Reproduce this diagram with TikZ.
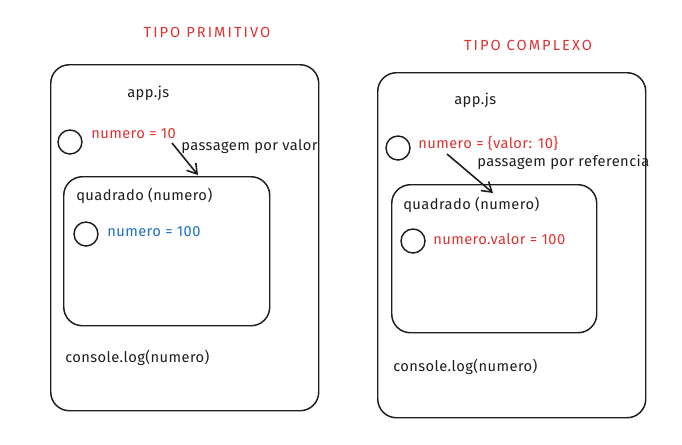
\documentclass[tikz,border=0pt]{standalone}
\usepackage{fontspec}
\setmainfont{Fira Sans}
\newfontfamily\labelfont[LetterSpace=3]{Fira Sans}
\newfontfamily\titlefont[LetterSpace=14]{Fira Sans}
\usetikzlibrary{arrows.meta}
\definecolor{inkblack}{HTML}{1E1E1E}
\definecolor{inkred}{HTML}{E03131}
\definecolor{inkblue}{HTML}{1971C2}
\begin{document}
\begin{tikzpicture}[x=0.75pt,y=-0.75pt,%
% common options for the boxes:
block/.style = {draw=inkblack, line width=1.1pt, rounded corners=14pt,
            anchor=north west, inner sep=0},
% common options for the circles:
ball/.style = {circle, draw=inkblack, line width=1.1pt, minimum size=18pt, inner sep=0},
% common options for the texts:
label/.style = {anchor=west, inner sep=0, font=\labelfont\fontsize{11}{12}\selectfont, text=inkblack},
title/.style = {inner sep=0, font=\titlefont\fontsize{11}{12}\selectfont, text=inkred},
arrow/.style = {draw=inkblack, line width=1.2pt, -{Straight Barb[length=7pt,width=9pt]}}]
\useasboundingbox (0,0) rectangle (682,444);
% tipo primitivo
\node[title] (T1) at (207,32) {TIPO PRIMITIVO};
\node[block,minimum width=201pt,minimum height=259.5pt] (App1) at (50,64) {};
\node[label] (J1) at (127,93) {app.js};
\node[ball] (C1) at (70,142) {};
\node[label,text=inkred] (N1) at (91,134) {numero = 10};
\node[label] (P1) at (181,147) {passagem por valor};
\node[block,minimum width=154.5pt,minimum height=111.75pt] (Q1) at (63,176) {};
\node[label] (QT1) at (76,196) {quadrado (numero)};
\node[ball] (C2) at (86,234) {};
\node[label,text=inkblue] (N2) at (107,232) {numero = 100};
\node[label] (L1) at (65,358) {console.log(numero)};
\coordinate (S1) at (172,143);
\coordinate (E1) at (198,175);
\draw[arrow] (S1) -- (E1);
% tipo complexo
\node[title] (T2) at (528,45) {TIPO COMPLEXO};
\node[block,minimum width=201pt,minimum height=258.75pt] (App2) at (377,72) {};
\node[label] (J2) at (454,100) {app.js};
\node[ball] (C3) at (398,148) {};
\node[label,text=inkred] (N3) at (418,143) {numero = \{valor: 10\}};
\node[label] (P2) at (477,162) {passagem por referencia};
\node[block,minimum width=153.75pt,minimum height=111pt] (Q2) at (391,184) {};
\node[label] (QT2) at (403,205) {quadrado (numero)};
\node[ball] (C4) at (413,241) {};
\node[label,text=inkred] (N4) at (433,239) {numero.valor = 100};
\node[label] (L2) at (393,367) {console.log(numero)};
\coordinate (S2) at (447,154);
\coordinate (E2) at (493,193);
\draw[arrow] (S2) -- (E2);
\end{tikzpicture}
\end{document}
